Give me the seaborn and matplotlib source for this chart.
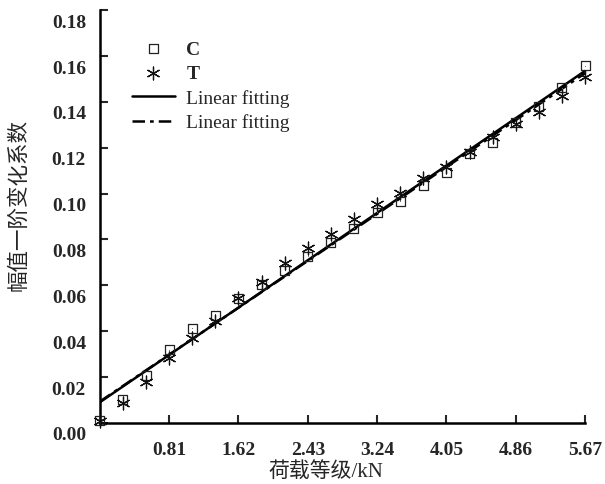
import numpy as np
import pandas as pd
import matplotlib
matplotlib.use("Agg")
import matplotlib.pyplot as plt
import matplotlib.transforms as mtransforms
import seaborn as sns

# ---- data ----
load_kN = [0.00, 0.27, 0.54, 0.81, 1.08, 1.35, 1.62, 1.89, 2.16, 2.43, 2.70,
           2.97, 3.24, 3.51, 3.78, 4.05, 4.32, 4.59, 4.86, 5.13, 5.40, 5.67]
coef_C = [0.001, 0.0101, 0.0206, 0.0320, 0.0412, 0.0468, 0.0543, 0.0602, 0.0665,
          0.0727, 0.0788, 0.0849, 0.0919, 0.0967, 0.1037, 0.1094, 0.1173, 0.1225,
          0.1309, 0.1379, 0.1462, 0.1558]
coef_T = [0.001, 0.0087, 0.0180, 0.0285, 0.0370, 0.0446, 0.0543, 0.0613, 0.0696,
          0.0762, 0.0823, 0.0888, 0.0954, 0.1002, 0.1068, 0.1116, 0.1182, 0.1247,
          0.1304, 0.1357, 0.1427, 0.1510]
fit_x = [0.0, 5.67]
fit_C = [0.0090, 0.1535]
fit_T = [0.0093, 0.1525]
xticks = [0.81, 1.62, 2.43, 3.24, 4.05, 4.86, 5.67]
yticks = [0.00, 0.02, 0.04, 0.06, 0.08, 0.10, 0.12, 0.14, 0.16, 0.18]

sns.set_theme(style="ticks")
plt.rcParams['font.family'] = ['Liberation Serif', 'Noto Sans CJK SC']
plt.rcParams['axes.unicode_minus'] = False

fig = plt.figure(figsize=(6.05, 4.85), dpi=100)
ax = fig.add_axes([0.165, 0.126, 0.802, 0.851])

dfC = pd.DataFrame({'x': load_kN, 'y': coef_C})
dfT = pd.DataFrame({'x': load_kN, 'y': coef_T})
dfFC = pd.DataFrame({'x': fit_x, 'y': fit_C})
dfFT = pd.DataFrame({'x': fit_x, 'y': fit_T})

sns.scatterplot(data=dfC, x='x', y='y', ax=ax, marker='s', s=42,
                facecolor='none', edgecolor='#222222', linewidth=0.9,
                label='C', zorder=3)
sns.scatterplot(data=dfC, x='x', y='y', ax=ax, marker='.', s=3,
                color='#777777', linewidth=0, zorder=3, legend=False)
sns.scatterplot(data=dfT, x='x', y='y', ax=ax, marker=(6, 2, 0), s=85,
                color='#111111', linewidth=0.9, label='T', zorder=4)
sns.lineplot(data=dfFC, x='x', y='y', ax=ax, color='black', linewidth=1.8,
             linestyle='-', label='Linear fitting', zorder=2)
sns.lineplot(data=dfFT, x='x', y='y', ax=ax, color='black', linewidth=1.8,
             linestyle=(0, (5, 2, 1.5, 2)), label='Linear fitting', zorder=2)

ax.set_xlim(0, 5.67)
ax.set_ylim(0, 0.18)
ax.set_xticks(xticks)
ax.set_xticklabels([f"{v:.2f}" for v in xticks])
ax.set_yticks(yticks)
ax.set_yticklabels([f"{v:.2f}" for v in yticks])
ax.tick_params(direction='in', length=6, width=1.5, labelsize=14)
ax.tick_params(axis='x', pad=13)
ax.tick_params(axis='y', pad=10)
for lab in ax.get_xticklabels() + ax.get_yticklabels():
    lab.set_fontweight('bold')
# y tick labels sit a little below their ticks in the reference
offset = mtransforms.ScaledTranslation(0, -10 / 100, fig.dpi_scale_trans)
for lab in ax.get_yticklabels():
    lab.set_transform(lab.get_transform() + offset)

sns.despine(ax=ax)
for sp in ['left', 'bottom']:
    ax.spines[sp].set_linewidth(1.8)
    ax.spines[sp].set_color('black')

ax.set_xlabel('荷载等级/kN', fontsize=15)
ax.set_ylabel('幅值一阶变化系数', fontsize=15.5)
ax.xaxis.set_label_coords(0.466, -0.092)
ax.yaxis.set_label_coords(-0.144, 0.53)

for coll in ax.collections:
    coll.set_clip_on(False)

leg = ax.legend(loc='upper left', bbox_to_anchor=(0.03, 0.97), frameon=False,
                fontsize=14, handlelength=2.2, handletextpad=0.6,
                labelspacing=0.35)
for t in leg.get_texts()[:2]:
    t.set_fontweight('bold')

fig.savefig('out.png', dpi=100)
